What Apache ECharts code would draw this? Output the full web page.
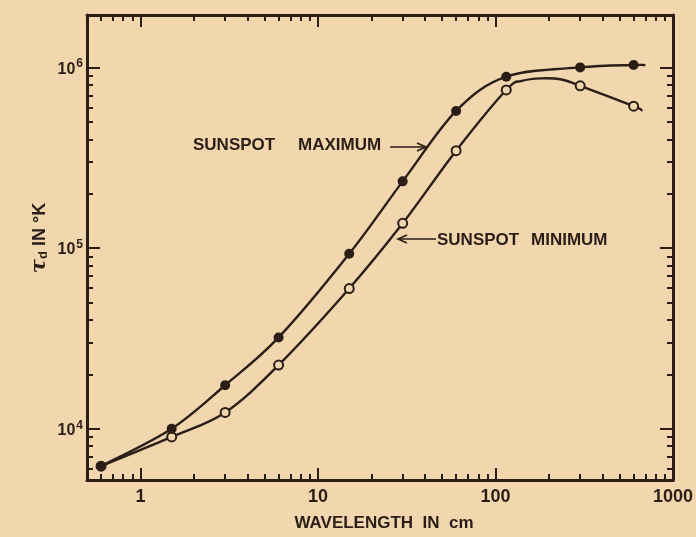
<!DOCTYPE html>
<html><head><meta charset="utf-8">
<script src="https://cdn.jsdelivr.net/npm/echarts@6/dist/echarts.min.js"></script>
<style>html,body{margin:0;padding:0;background:#f1d6ae}#c{width:696px;height:537px}</style>
</head><body><div id="c"></div>
<script>
const wavelengthMax = [0.6, 1.5, 3.0, 6.0, 15, 30, 60, 115, 300, 600];
const tempMax = [6200, 10000, 17400, 32000, 93000, 234000, 574000, 888000, 1000000, 1030000];
const wavelengthMin = [0.6, 1.5, 3.0, 6.0, 15, 30, 60, 115, 300, 600];
const tempMin = [6200, 9000, 12300, 22500, 59700, 137000, 346000, 750000, 791000, 610000];

// ---- drawn curves: the measured points plus a few positions traced on the picture's lines ----
const curveMaxWavelength = [0.6, 1.5, 3.0, 6.0, 15, 30, 60, 115, 300, 600, 690];
const curveMaxTemp = [6200, 10000, 17400, 32000, 93000, 234000, 574000, 888000, 1000000, 1030000, 1030000];
const curveMinWavelength = [0.6, 1.5, 3.0, 6.0, 15, 30, 60, 115, 141, 182, 236, 300, 600, 666];
const curveMinTemp = [6200, 9000, 12300, 22500, 59700, 137000, 346000, 750000, 841000, 869000, 857000, 791000, 610000, 579000];

const xMajorTicks = [1, 10, 100, 1000];
const xMinorTicks = [0.6, 0.7, 0.8, 0.9, 2, 3, 4, 5, 6, 7, 8, 9, 20, 30, 40, 50, 60, 70, 80, 90, 200, 300, 400, 500, 600, 700, 800, 900];
const yMajorTicks = [10000, 100000, 1000000];
const yMinorTicks = [6000, 7000, 8000, 9000, 20000, 30000, 40000, 50000, 60000, 70000, 80000, 90000,
  200000, 300000, 400000, 500000, 600000, 700000, 800000, 900000];

const xLabelText = ['1', '10', '100', '1000'];
const xTitle = 'WAVELENGTH  IN  cm';
const yTitleRest = ' IN °K';
const labelMaxWords = ['SUNSPOT', 'MAXIMUM'];
const labelMinWords = ['SUNSPOT', 'MINIMUM'];

// ---- styles ----
const INK = '#2a1e17';
const BG = '#f1d6ae';
const FONT = '"Liberation Sans", Arial, sans-serif';

function xAxis(pos, ticks, len, showLine, showLabel) {
  return {
    type: 'log', logBase: 10, min: 0.5, max: 1000, position: pos, gridIndex: 0,
    axisLine: { show: showLine, onZero: false, lineStyle: { color: INK, width: 3 } },
    axisTick: { show: true, inside: true, length: len, customValues: ticks, lineStyle: { color: INK, width: 2 } },
    axisLabel: showLabel ? {
      show: true, customValues: ticks, margin: 8, color: INK,
      fontFamily: FONT, fontWeight: 'bold', fontSize: 18,
      formatter: v => xLabelText[xMajorTicks.indexOf(v)] ?? String(v)
    } : { show: false },
    splitLine: { show: false }, minorTick: { show: false }
  };
}
function yAxis(pos, ticks, len, showLine, showLabel) {
  return {
    type: 'log', logBase: 10, min: 5200, max: 1950000, position: pos, gridIndex: 0,
    axisLine: { show: showLine, onZero: false, lineStyle: { color: INK, width: 3 } },
    axisTick: { show: true, inside: true, length: len, customValues: ticks, lineStyle: { color: INK, width: 2 } },
    axisLabel: showLabel ? {
      show: true, customValues: ticks, margin: 4, color: INK,
      formatter: v => '{b|10}{s|' + Math.round(Math.log10(v)) + '}',
      rich: {
        b: { fontFamily: FONT, fontWeight: 'bold', fontSize: 16, color: INK, padding: [4, 0, 0, 0] },
        s: { fontFamily: FONT, fontWeight: 'bold', fontSize: 12, color: INK, padding: [0, 0, 7, 1] }
      }
    } : { show: false },
    splitLine: { show: false }, minorTick: { show: false }
  };
}

// smooth curve through the given points, placed with the chart's own axes (api.coord)
function curveSeries(name, xs, ys) {
  return {
    name: name, type: 'custom', coordinateSystem: 'cartesian2d', xAxisIndex: 0, yAxisIndex: 0,
    data: xs.map((w, i) => [w, ys[i]]), z: 2, silent: true, clip: false,
    renderItem: function (params, api) {
      if (params.dataIndex !== 0) return null;
      const p = xs.map((w, i) => api.coord([w, ys[i]]));
      let d = 'M' + p[0][0] + ' ' + p[0][1];
      for (let i = 0; i < p.length - 1; i++) {
        const p0 = p[Math.max(i - 1, 0)], p1 = p[i], p2 = p[i + 1], p3 = p[Math.min(i + 2, p.length - 1)];
        const c1x = p1[0] + (p2[0] - p0[0]) / 6, c1y = p1[1] + (p2[1] - p0[1]) / 6;
        const c2x = p2[0] - (p3[0] - p1[0]) / 6, c2y = p2[1] - (p3[1] - p1[1]) / 6;
        d += ' C' + c1x + ' ' + c1y + ' ' + c2x + ' ' + c2y + ' ' + p2[0] + ' ' + p2[1];
      }
      return { type: 'path', shape: { pathData: d }, style: { fill: 'none', stroke: INK, lineWidth: 2.4, lineJoin: 'round', lineCap: 'round' } };
    }
  };
}

function arrow(x1, y, x2) {
  const dir = x2 > x1 ? 1 : -1;
  return [
    { type: 'line', shape: { x1: x1, y1: y, x2: x2, y2: y }, style: { stroke: INK, lineWidth: 1.6 } },
    { type: 'polyline', shape: { points: [[x2 - dir * 9, y - 4], [x2, y], [x2 - dir * 9, y + 4]] }, style: { stroke: INK, lineWidth: 1.6, fill: null } }
  ];
}
function word(text, x, y) {
  return { type: 'text', x: x, y: y, style: { text: text, fill: INK, font: 'bold 17px ' + FONT, textVerticalAlign: 'middle', verticalAlign: 'middle' } };
}
const pairs = (xs, ys) => xs.map((w, i) => [w, ys[i]]);

const chart = echarts.init(document.getElementById('c'), null, { renderer: 'canvas' });
chart.setOption({
  backgroundColor: BG,
  animation: false,
  grid: { left: 87, right: 23, top: 15, bottom: 57, containLabel: false, outerBoundsMode: 'none' },
  xAxis: [
    xAxis('bottom', xMajorTicks, 12, true, true),
    xAxis('bottom', xMinorTicks, 6, false, false),
    xAxis('top', xMajorTicks, 12, true, false),
    xAxis('top', xMinorTicks, 6, false, false)
  ],
  yAxis: [
    yAxis('left', yMajorTicks, 13, true, true),
    yAxis('left', yMinorTicks, 6, false, false),
    yAxis('right', yMajorTicks, 13, true, false),
    yAxis('right', yMinorTicks, 6, false, false)
  ],
  series: [
    curveSeries('curve min', curveMinWavelength, curveMinTemp),
    curveSeries('curve max', curveMaxWavelength, curveMaxTemp),
    {
      name: 'Sunspot minimum', type: 'scatter', data: pairs(wavelengthMin, tempMin),
      symbol: 'circle', symbolSize: 9, z: 3,
      itemStyle: { color: BG, borderColor: INK, borderWidth: 2, opacity: 1 }
    },
    {
      name: 'Sunspot maximum', type: 'scatter', data: pairs(wavelengthMax, tempMax),
      symbol: 'circle', symbolSize: 10, z: 4,
      itemStyle: { color: INK, borderWidth: 0, opacity: 1 }
    }
  ],
  graphic: [
    { type: 'text', x: 384, y: 523, style: { text: xTitle, fill: INK, font: 'bold 17px ' + FONT, textAlign: 'center', align: 'center', textVerticalAlign: 'middle', verticalAlign: 'middle' } },
    {
      type: 'text', x: 40, y: 238, rotation: Math.PI / 2,
      style: {
        text: '{t|τ}{d|d}{n|' + yTitleRest + '}',
        align: 'center', verticalAlign: 'middle', textAlign: 'center', textVerticalAlign: 'middle',
        rich: {
          t: { font: 'italic bold 21px "DejaVu Serif", serif', fill: INK },
          d: { font: 'bold 13px ' + FONT, fill: INK, padding: [7, 0, 0, 0] },
          n: { font: 'bold 18px ' + FONT, fill: INK }
        }
      }
    },
    word(labelMaxWords[0], 193, 145),
    word(labelMaxWords[1], 298, 145),
    ...arrow(390, 147, 426),
    word(labelMinWords[0], 437, 240),
    word(labelMinWords[1], 531, 240),
    ...arrow(436, 239, 398)
  ]
});
</script></body></html>
